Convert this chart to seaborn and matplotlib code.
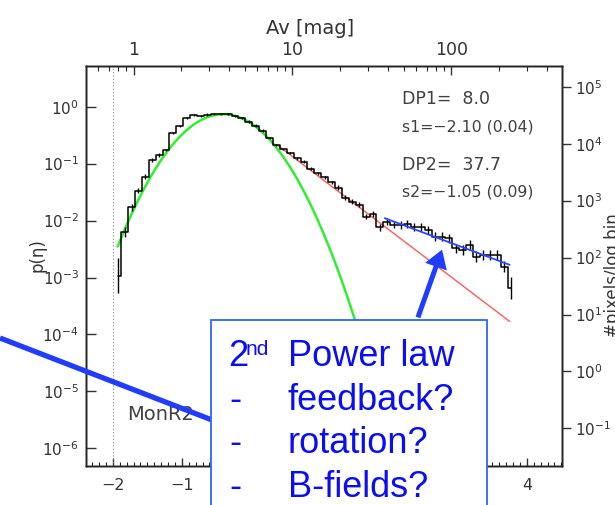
import numpy as np
import pandas as pd
import matplotlib
matplotlib.use("Agg")
import matplotlib.pyplot as plt
import seaborn as sns
from matplotlib.patches import Rectangle, FancyArrowPatch, ArrowStyle
from matplotlib.lines import Line2D
from matplotlib.ticker import FixedLocator, NullLocator, MultipleLocator

# ---------------- data ----------------
eta_first = -1.93          # centre of first histogram bin
bin_width = 0.10
log_p = [-2.965, -2.20, -1.765, -1.474, -1.228, -0.935, -0.847, -0.76, -0.467, -0.339,
         -0.204, -0.146, -0.163, -0.14, -0.133, -0.13, -0.133, -0.16, -0.204, -0.263,
         -0.333, -0.42, -0.555, -0.672, -0.748, -0.818, -0.906, -0.965, -1.09, -1.17,
         -1.24, -1.33, -1.42, -1.60, -1.67, -1.72, -1.93, -1.88, -2.12, -2.017,
         -2.075, -2.075, -2.06, -2.105, -2.105, -2.163, -2.28, -2.28, -2.31, -2.485,
         -2.514, -2.426, -2.632, -2.602, -2.602, -2.602, -2.807, -3.186]
log_err = [0.30, 0.09, 0.06, 0.05, 0.04, 0.03, 0.03, 0.02, 0.02, 0.02,
           0.02, 0.02, 0.02, 0.02, 0.02, 0.02, 0.02, 0.02, 0.02, 0.02,
           0.02, 0.02, 0.02, 0.02, 0.02, 0.02, 0.03, 0.03, 0.03, 0.03,
           0.03, 0.03, 0.04, 0.04, 0.04, 0.05, 0.05, 0.05, 0.06, 0.06,
           0.06, 0.07, 0.07, 0.07, 0.07, 0.07, 0.08, 0.08, 0.08, 0.08,
           0.09, 0.09, 0.09, 0.09, 0.09, 0.09, 0.10, 0.20]

# lognormal fit (green): peak position, width, peak value
ln_mu, ln_sigma, ln_logpeak = -0.40, 0.468, -0.133
ln_range = [-1.93, 2.40]
# power-law fits (end points)
red_eta = [0.38, 3.75]
red_logp = [-0.671, -3.77]
blue_eta = [1.94, 3.75]
blue_logp = [-1.958, -2.777]

left_ticks = [-6, -5, -4, -3, -2, -1, 0]
right_ticks = [-1, 0, 1, 2, 3, 4, 5]
bottom_ticks = [-2, -1, 0, 1, 2, 3, 4]
# labels of 0..3 lie under the call-out box in the reference
bottom_labels = ["\u22122", "\u22121", "", "", "", "", "4"]
av_major = [1, 10, 100]
av_minor = [0.5, 0.6, 0.7, 0.8, 0.9, 2, 3, 4, 5, 6, 7, 8, 9,
            20, 30, 40, 50, 60, 70, 80, 90, 200, 300, 400]
AV0 = 5.47          # Av at eta = 0
count_factor_log = 4.65

# ---------------- figure ----------------
sns.set_style("ticks")
plt.rcParams['font.family'] = ['DejaVu Sans']
plt.rcParams['axes.linewidth'] = 1.0
W, H = 615, 505
fig = plt.figure(figsize=(W / 100, H / 100), dpi=100)
fig.patch.set_facecolor("white")

def fx(px):
    return px / W

def fy(py):
    return 1 - py / H

ax = fig.add_axes([fx(86), fy(466), (562 - 86) / W, (466 - 66) / H])
ax.set_yscale("log")
xlim = (-2.39, 4.51)
ylim = (10 ** -6.31, 10 ** 0.714)

eta = eta_first + bin_width * np.arange(len(log_p))
p = 10 ** np.array(log_p)
err = np.array(log_err)
hist_df = pd.DataFrame({"eta": eta, "p": p})
sns.lineplot(data=hist_df, x="eta", y="p", drawstyle="steps-mid", color="black",
             lw=1.1, estimator=None, ax=ax, zorder=3)
ax.vlines(eta, p * 10 ** -err, p * 10 ** err, color="black", lw=1.0, zorder=3)

xg = np.linspace(ln_range[0], ln_range[1], 300)
yg = 10 ** (ln_logpeak - np.log10(np.e) * (xg - ln_mu) ** 2 / (2 * ln_sigma ** 2))
sns.lineplot(x=xg, y=yg, color="#2fef2f", lw=1.8, ax=ax, zorder=2)
sns.lineplot(x=red_eta, y=10 ** np.array(red_logp), color="#ff5a5a", lw=1.0, ax=ax, zorder=2)
sns.lineplot(x=blue_eta, y=10 ** np.array(blue_logp), color="#2a46ff", lw=1.3, ax=ax, zorder=4)

ax.axvline(-2, color="#888888", lw=0.8, ls=(0, (1, 2)), zorder=1)

ax.set_xlim(*xlim)
ax.set_ylim(*ylim)
ax.set_xlabel("")
ax.set_ylabel("")
tick_col = "#333333"
ax.set_xticks(bottom_ticks)
ax.set_xticklabels(bottom_labels)
ax.xaxis.set_minor_locator(MultipleLocator(0.1))
ax.set_yticks([10.0 ** k for k in left_ticks])
ax.set_yticklabels([r"$10^{%d}$" % k for k in left_ticks])
ax.yaxis.set_minor_locator(NullLocator())
ax.tick_params(axis="x", which="major", direction="in", length=5.5, width=1,
               labelsize=11.5, pad=9, colors=tick_col)
ax.tick_params(axis="x", which="minor", direction="in", length=3, width=0.8)
ax.tick_params(axis="y", which="major", direction="in", length=7.5, width=1,
               labelsize=11, pad=5, colors=tick_col)
for s in ax.spines.values():
    s.set_color("#222222")

# right axis: counts
ax2 = ax.twinx()
ax2.set_yscale("log")
ax2.set_ylim(ylim[0] * 10 ** count_factor_log, ylim[1] * 10 ** count_factor_log)
ax2.set_yticks([10.0 ** k for k in right_ticks])
ax2.set_yticklabels([r"$10^{%d}$" % k for k in right_ticks])
ax2.yaxis.set_minor_locator(NullLocator())
ax2.tick_params(axis="y", which="major", direction="out", length=6.5, width=1,
                labelsize=11, pad=3, colors=tick_col)

# top axis: Av
ax3 = ax.twiny()
ax3.set_xlim(*xlim)
ax3.set_xticks(np.log(np.array(av_major) / AV0))
ax3.set_xticklabels([str(v) for v in av_major])
ax3.xaxis.set_minor_locator(FixedLocator(np.log(np.array(av_minor) / AV0)))
ax3.tick_params(axis="x", which="major", direction="in", length=6.5, width=1,
                labelsize=12.5, pad=5, colors=tick_col)
ax3.tick_params(axis="x", which="minor", direction="in", length=3.5, width=0.8)

txt_col = "#404040"
fig.text(fx(310), fy(28), "Av [mag]", ha="center", va="center", fontsize=14, color=tick_col)
fig.text(fx(38), fy(255), "p(\u03b7)", ha="center", va="center", rotation=90,
         fontsize=12, color=tick_col)
fig.text(fx(604), fy(275), "#pixels/log bin", ha="left", va="center", rotation=90,
         fontsize=12, color=tick_col)

fig.text(fx(402), fy(103.5), "DP1=  8.0", ha="left", va="baseline", fontsize=12.5, color=txt_col)
fig.text(fx(402), fy(131.5), "s1=\u22122.10 (0.04)", ha="left", va="baseline", fontsize=11.3, color=txt_col)
fig.text(fx(402), fy(169.5), "DP2=  37.7", ha="left", va="baseline", fontsize=12.5, color=txt_col)
fig.text(fx(402), fy(196.5), "s2=\u22121.05 (0.09)", ha="left", va="baseline", fontsize=11.3, color=txt_col)
fig.text(fx(127), fy(420), "MonR2", ha="left", va="baseline", fontsize=14, color=txt_col)

# ---------------- overlay call-out ----------------
blue_dark = "#1f3cff"
fig.add_artist(Line2D([fx(0), fx(212)], [fy(338), fy(420)], transform=fig.transFigure,
                      color=blue_dark, lw=3.8, solid_capstyle="butt", zorder=4))
box = Rectangle((fx(211), fy(520)), (487 - 211) / W, (520 - 319.5) / H,
                transform=fig.transFigure, facecolor="white", edgecolor="#2f63ff",
                lw=1.3, zorder=5)
fig.add_artist(box)
arrow = FancyArrowPatch((fx(417), fy(320)), (fx(443), fy(247)), transform=fig.transFigure,
                        arrowstyle=ArrowStyle("simple", head_length=13, head_width=16.5,
                                              tail_width=3.6),
                        mutation_scale=1, color=blue_dark, lw=0, zorder=7)
fig.add_artist(arrow)

box_col = "#0a0ff0"
bf = ["Liberation Sans", "DejaVu Sans"]
fig.text(fx(228), fy(366), "2", ha="left", va="baseline", fontsize=26, color=box_col,
         family=bf, zorder=8)
fig.text(fx(246), fy(355), "nd", ha="left", va="baseline", fontsize=15, color=box_col,
         family=bf, zorder=8)
fig.text(fx(288), fy(366), "Power law", ha="left", va="baseline", fontsize=26,
         color=box_col, family=bf, zorder=8)
for yb, word in zip([410, 453, 497], ["feedback?", "rotation?", "B-fields?"]):
    fig.text(fx(229), fy(yb), "-", ha="left", va="baseline", fontsize=26, color=box_col,
             family=bf, zorder=8)
    fig.text(fx(288), fy(yb), word, ha="left", va="baseline", fontsize=26, color=box_col,
             family=bf, zorder=8)

fig.savefig("out.png", dpi=100)
